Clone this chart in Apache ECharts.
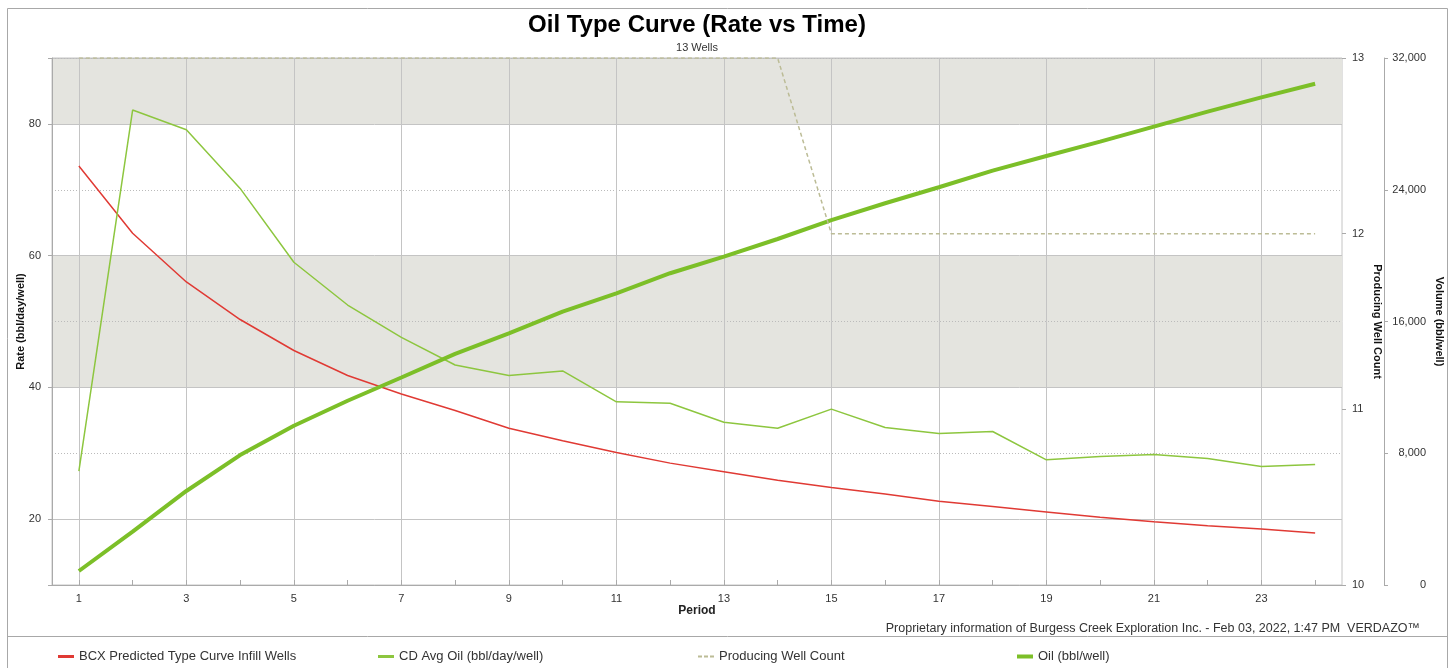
<!DOCTYPE html>
<html>
<head>
<meta charset="utf-8">
<script src="https://cdn.jsdelivr.net/npm/echarts@6/dist/echarts.min.js"></script>
<style>
html,body{margin:0;padding:0;background:#fff;}
#chart{width:1450px;height:668px;}
</style>
</head>
<body>
<div id="chart"></div>
<script>
const periods = ['1','2','3','4','5','6','7','8','9','10','11','12','13','14','15','16','17','18','19','20','21','22','23','24'];
const bcxRate = [73.6,63.4,56.0,50.3,45.6,41.8,39.0,36.5,33.8,31.9,30.1,28.5,27.2,25.9,24.8,23.8,22.7,21.9,21.1,20.3,19.6,19.0,18.5,17.9];
const cdAvgOil = [27.3,82.1,79.1,70.2,59.0,52.5,47.6,43.4,41.8,42.5,37.8,37.6,34.7,33.8,36.7,33.9,33.0,33.3,29.0,29.5,29.8,29.2,28.0,28.3];
const wellCount = [13,13,13,13,13,13,13,13,13,13,13,13,13,13,12,12,12,12,12,12,12,12,12,12];
const oilVolume = [850,3240,5710,7890,9670,11190,12600,14030,15280,16600,17710,18930,19940,21010,22160,23180,24150,25160,26050,26920,27830,28740,29610,30440];
const rateTickLabels = [20,40,60,80];
const rateTickLines = [10,20,40,60,80,90];

const FONT = 'Liberation Sans, Arial, sans-serif';
const chart = echarts.init(document.getElementById('chart'));

function commas(v){ return String(v).replace(/\B(?=(\d{3})+(?!\d))/g, ','); }

const legendBase = {
  top: 650, padding: 0, itemWidth: 16, itemHeight: 3, itemGap: 0, symbolKeepAspect: false,
  textStyle: {fontFamily: FONT, fontSize: 13, color: '#333'}
};
const dashIcon = 'path://M0,0h4v1h-4zM6,0h4v1h-4zM12,0h4v1h-4z';

const option = {
  animation: false,
  backgroundColor: '#fff',
  title: {
    text: 'Oil Type Curve (Rate vs Time)',
    subtext: '13 Wells',
    left: 692, top: 8, textAlign: 'center', itemGap: 5,
    textStyle: {fontFamily: FONT, fontSize: 24, fontWeight: 'bold', color: '#000'},
    subtextStyle: {fontFamily: FONT, fontSize: 11, color: '#333'}
  },
  legend: [
    Object.assign({}, legendBase, {left: 58, icon: 'rect', data: ['BCX Predicted Type Curve Infill Wells']}),
    Object.assign({}, legendBase, {left: 378, icon: 'rect', data: ['CD Avg Oil (bbl/day/well)']}),
    Object.assign({}, legendBase, {left: 698, icon: dashIcon, itemHeight: 2, data: ['Producing Well Count']}),
    Object.assign({}, legendBase, {left: 1017, icon: 'rect', itemHeight: 4, data: ['Oil (bbl/well)']})
  ],
  grid: {left: 52, right: 108, top: 58, bottom: 83, outerBoundsMode: 'none', containLabel: false,
         show: true, borderColor: '#c4c4c4', borderWidth: 1},
  xAxis: {
    type: 'category', data: periods, boundaryGap: true,
    name: 'Period', nameLocation: 'middle', nameGap: 20, nameMoveOverlap: false,
    nameTextStyle: {fontFamily: FONT, fontSize: 12, fontWeight: 'bold', color: '#222'},
    axisLine: {lineStyle: {color: '#aaa'}},
    axisTick: {show: true, inside: true, length: 5, interval: 0, alignWithLabel: true, lineStyle: {color: '#aaa'}},
    axisLabel: {interval: 1, margin: 8, fontFamily: FONT, fontSize: 11, color: '#333'},
    splitLine: {show: true, interval: 1, alignWithLabel: true, lineStyle: {color: '#c4c4c4', width: 1}}
  },
  yAxis: [
    {
      type: 'value', position: 'left', min: 10, max: 90,
      name: 'Rate (bbl/day/well)', nameLocation: 'middle', nameGap: 26, nameRotate: 90, nameMoveOverlap: false,
      nameTextStyle: {fontFamily: FONT, fontSize: 11, fontWeight: 'bold', color: '#111'},
      axisLine: {show: true, lineStyle: {color: '#aaa'}},
      axisTick: {show: true, length: 4, customValues: rateTickLines, lineStyle: {color: '#aaa'}},
      axisLabel: {customValues: rateTickLabels, margin: 11, fontFamily: FONT, fontSize: 11, color: '#333'},
      splitLine: {show: true, lineStyle: {color: '#c4c4c4', width: 1}},
      splitArea: {show: true, areaStyle: {color: ['rgba(0,0,0,0)','rgba(0,0,0,0)','#e4e4df','rgba(0,0,0,0)','#e4e4df']}}
    },
    {
      type: 'value', position: 'right', min: 10, max: 13, interval: 1, offset: 0,
      name: 'Producing Well Count', nameLocation: 'middle', nameGap: 30, nameRotate: -90, nameMoveOverlap: false,
      nameTextStyle: {fontFamily: FONT, fontSize: 11, fontWeight: 'bold', color: '#111'},
      axisLine: {show: false},
      axisTick: {show: true, length: 4, lineStyle: {color: '#aaa'}},
      axisLabel: {margin: 10, fontFamily: FONT, fontSize: 11, color: '#333'},
      splitLine: {show: false}
    },
    {
      type: 'value', position: 'right', min: 0, max: 32000, interval: 8000, offset: 42,
      name: 'Volume (bbl/well)', nameLocation: 'middle', nameGap: 50, nameRotate: -90, nameMoveOverlap: false,
      nameTextStyle: {fontFamily: FONT, fontSize: 11, fontWeight: 'bold', color: '#111'},
      axisLine: {show: true, lineStyle: {color: '#aaa'}},
      axisTick: {show: true, length: 4, lineStyle: {color: '#aaa'}},
      axisLabel: {margin: 42, align: 'right', fontFamily: FONT, fontSize: 11, color: '#333', formatter: commas},
      splitLine: {show: true, lineStyle: {color: '#bbb', width: 1, type: [1, 2]}}
    }
  ],
  series: [
    {
      name: 'BCX Predicted Type Curve Infill Wells', type: 'line', yAxisIndex: 0,
      data: bcxRate, symbol: 'none', color: '#e03a34',
      lineStyle: {width: 1.5, color: '#e03a34'}, z: 3
    },
    {
      name: 'CD Avg Oil (bbl/day/well)', type: 'line', yAxisIndex: 0,
      data: cdAvgOil, symbol: 'none', color: '#8dc63f',
      lineStyle: {width: 1.5, color: '#8dc63f'}, z: 3
    },
    {
      name: 'Producing Well Count', type: 'line', yAxisIndex: 1,
      data: wellCount, symbol: 'none', color: '#bcbc96',
      lineStyle: {width: 1.5, color: '#bcbc96', type: [4, 3]}, z: 4
    },
    {
      name: 'Oil (bbl/well)', type: 'line', yAxisIndex: 2,
      data: oilVolume, symbol: 'none', color: '#7cbf28',
      lineStyle: {width: 4, color: '#7cbf28'}, z: 3
    }
  ],
  graphic: [
    {type: 'rect', shape: {x: 7.5, y: 8.5, width: 1440, height: 680}, style: {fill: 'none', stroke: '#a8a8a8', lineWidth: 1}, silent: true, z: -1},
    {type: 'line', shape: {x1: 7.5, y1: 636.5, x2: 1447.5, y2: 636.5}, style: {stroke: '#a8a8a8', lineWidth: 1}, silent: true},
    {type: 'text', right: 30, top: 622, style: {text: 'Proprietary information of Burgess Creek Exploration Inc. - Feb 03, 2022, 1:47 PM  VERDAZO\u2122', font: '12.5px ' + FONT, fill: '#333'}}
  ]
};
chart.setOption(option);
</script>
</body>
</html>
